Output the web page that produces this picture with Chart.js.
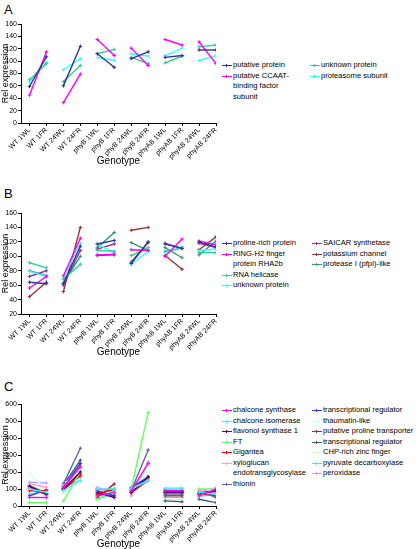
<!DOCTYPE html>
<html>
<head>
<meta charset="utf-8">
<script src="https://cdn.jsdelivr.net/npm/chart.js@4.4.0/dist/chart.umd.min.js"></script>
<style>
  body { margin: 0; background: #fff; font-family: "Liberation Sans", Arial, sans-serif; }
  #page { position: relative; width: 416px; height: 549px; overflow: hidden; }
  .panel-label { position: absolute; left: 4px; font-size: 13px; color: #000; }
  .box { position: absolute; left: 0; width: 222px; }
  .legend { position: absolute; font-size: 7.6px; line-height: 10.5px; color: #000; white-space: nowrap; }
  .legend div { position: relative; padding-left: 11px; }
  .legend .sw { position: absolute; left: 0; top: 5px; width: 10px; height: 1px; }
  .legend .sw::after { content: ''; position: absolute; left: 4px; top: -1px; width: 1px; height: 3px; background: inherit; }
</style>
</head>
<body>
<div id="page">
  <div class="panel-label" style="top:2px">A</div>
  <div class="box" style="top:0px;height:169px"><canvas id="chartA"></canvas></div>
  <div class="legend" id="legA1" style="left:222px;top:60px"></div>
  <div class="legend" id="legA2" style="left:310px;top:60px"></div>

  <div class="panel-label" style="top:186px">B</div>
  <div class="box" style="top:185px;height:175px"><canvas id="chartB"></canvas></div>
  <div class="legend" id="legB1" style="left:222px;top:238px"></div>
  <div class="legend" id="legB2" style="left:312px;top:238px"></div>

  <div class="panel-label" style="top:379px">C</div>
  <div class="box" style="top:376px;height:176px"><canvas id="chartC"></canvas></div>
  <div class="legend" id="legC1" style="left:222px;top:405px"></div>
  <div class="legend" id="legC2" style="left:312px;top:405px"></div>
</div>
<script>
const genotypes = ['WT 1WL', 'WT 1FR', 'WT 24WL', 'WT 24FR', 'phyB 1WL', 'phyB 1FR', 'phyB 24WL', 'phyB 24FR', 'phyAB 1WL', 'phyAB 1FR', 'phyAB 24WL', 'phyAB 24FR'];

// panel A
const aPutative = [59, 107, 60, 124, 112, 90, 104, 115, 106, 109, 118, 118];
const aCcaat = [45, 115, 33, 79, 135, 109, 121, 93, 135, 126, 131, 96];
const aUnknown = [70, 96, 67, 93, 112, 119, 106, 96, 97, 108, 123, 126];
const aProteasome = [66, 98, 86, 104, 106, 101, 112, 108, 109, 121, 101, 109];
const aTicks = [0, 160, 20];

// panel B
const bProline = [64, 62, 62, 114, 117, 122, 90, 120, 117, 111, 120, 113];
const bRing = [56, 72, 73, 125, 102, 103, 109, 108, 100, 124, 121, 116];
const bHelicase = [91, 84, 68, 89, 108, 107, 101, 112, 107, 111, 105, 105];
const bUnknown = [79, 72, 70, 118, 117, 105, 89, 107, 105, 113, 108, 110];
const bSaicar = [72, 80, 60, 108, 110, 117, 92, 119, 118, 111, 118, 112];
const bPotassium = [44, 64, 51, 140, 101, 102, 136, 140, 101, 82, 109, 127];
const bProtease = [80, 73, 63, 100, 112, 133, 119, 108, 112, 98, 102, 121];
const bTicks = [20, 160, 20];

// panel C
const cChalSyn = [50, 50, 110, 230, 60, 80, 90, 250, 90, 90, 60, 100];
const cChalIso = [100, 80, 90, 150, 100, 100, 100, 150, 105, 105, 80, 70];
const cFlavonol = [115, 70, 100, 200, 80, 50, 80, 170, 80, 80, 75, 90];
const cFT = [20, 20, 30, 200, 40, 90, 100, 550, 95, 95, 100, 100];
const cGigantea = [90, 90, 95, 180, 70, 100, 80, 150, 95, 85, 70, 90];
const cXyloglucan = [130, 110, 120, 170, 110, 80, 70, 160, 100, 100, 90, 80];
const cThionin = [110, 65, 130, 340, 100, 90, 90, 330, 70, 70, 90, 50];
const cTransReg1 = [60, 95, 105, 250, 90, 60, 110, 170, 85, 85, 80, 80];
const cThaumatin = [190, 95, 140, 160, 110, 40, 95, 200, 105, 100, 65, 110];
const cProline = [100, 70, 100, 190, 50, 130, 100, 170, 60, 60, 75, 60];
const cTransReg2 = [120, 75, 120, 270, 70, 60, 80, 160, 30, 25, 40, 20];
const cChp = [80, 100, 80, 220, 60, 100, 90, 180, 40, 40, 100, 95];
const cPyruvate = [70, 90, 115, 150, 40, 70, 100, 150, 50, 50, 55, 70];
const cPeroxidase = [140, 135, 140, 240, 100, 100, 60, 260, 75, 75, 80, 110];
const cTicks = [0, 600, 100];

const FONT = '"Liberation Sans", Arial, sans-serif';

function series(label, data, color) {
    return {
        label,
        data: data.map((v, i) => ({ x: i, y: v })),
        borderColor: color,
        backgroundColor: color,
        borderWidth: 1.4,
        pointStyle: 'cross',
        pointRadius: 1.8,
        pointBorderWidth: 1,
        tension: 0,
        // only 1WL-1FR and 24WL-24FR pairs are joined
        segment: { borderColor: c => c.p0DataIndex % 2 ? 'rgba(0,0,0,0)' : undefined }
    };
}

function makeChart(id, datasets, ticks, padTop) {
    return new Chart(document.getElementById(id), {
        type: 'line',
        data: { datasets },
        options: {
            responsive: true,
            maintainAspectRatio: false,
            animation: false,
            layout: { padding: { top: padTop, right: 6, bottom: 0, left: 0 } },
            plugins: { legend: { display: false }, tooltip: { enabled: false } },
            scales: {
                x: {
                    type: 'linear',
                    min: -0.5, max: 11,
                    grid: { display: true, drawOnChartArea: false, color: '#000', tickLength: 3 },
                    border: { color: '#000', width: 1 },
                    afterBuildTicks: s => { s.ticks = genotypes.map((_, i) => ({ value: i })); },
                    ticks: {
                        color: '#000', font: { family: FONT, size: 7 }, minRotation: 45, maxRotation: 45,
                        padding: 0, autoSkip: false, callback: v => genotypes[v]
                    },
                    title: { display: true, text: 'Genotype', color: '#000', font: { family: FONT, size: 10 }, padding: { top: 0, bottom: 2 } },
                    afterFit: s => { s.height = 46; }
                },
                y: {
                    min: ticks[0], max: ticks[1],
                    grid: { display: true, drawOnChartArea: false, color: '#000', tickLength: 3 },
                    border: { color: '#000', width: 1 },
                    ticks: { stepSize: ticks[2], color: '#000', font: { family: FONT, size: 7 }, padding: 1 },
                    title: { display: true, text: 'Rel expression', color: '#000', font: { family: FONT, size: 9 }, padding: { top: 0, bottom: 0 } },
                    afterFit: s => { s.width = 21; }
                }
            }
        }
    });
}

makeChart('chartA', [
    series('putative protein', aPutative, '#333399'),
    series('putative CCAAT-binding factor subunit', aCcaat, '#ff00ff'),
    series('unknown protein', aUnknown, '#33cc99'),
    series('proteasome subunit', aProteasome, '#33ffff')
], aTicks, 24);

makeChart('chartB', [
    series('proline-rich protein', bProline, '#333399'),
    series('RING-H2 finger protein RHA2b', bRing, '#ff00ff'),
    series('RNA helicase', bHelicase, '#33cc99'),
    series('unknown protein', bUnknown, '#33ffff'),
    series('SAICAR synthetase', bSaicar, '#993399'),
    series('potassium channel', bPotassium, '#993333'),
    series('protease I (pfpI)-like', bProtease, '#339977')
], bTicks, 28);

makeChart('chartC', [
    series('chalcone synthase', cChalSyn, '#ff00ff'),
    series('chalcone isomerase', cChalIso, '#33ffff'),
    series('flavonol synthase 1', cFlavonol, '#660066'),
    series('FT', cFT, '#66ff66'),
    series('Gigantea', cGigantea, '#ff0000'),
    series('xyloglucan endotransglycosylase', cXyloglucan, '#ff99cc'),
    series('thionin', cThionin, '#666699'),
    series('transcriptional regulator', cTransReg1, '#3333ff'),
    series('thaumatin-like', cThaumatin, '#ccffff'),
    series('putative proline transporter', cProline, '#993333'),
    series('transcriptional regulator', cTransReg2, '#336666'),
    series('CHP-rich zinc finger', cChp, '#ccffcc'),
    series('pyruvate decarboxylase', cPyruvate, '#66ccff'),
    series('peroxidase', cPeroxidase, '#cc99ff')
], cTicks, 28);

function legend(id, items) {
    const el = document.getElementById(id);
    let html = '';
    items.forEach(([text, color]) => {
        html += `<div><span class="sw" style="background:${color}"></span>${text}</div>`;
    });
    el.innerHTML = html;
}

legend('legA1', [['putative protein', '#333399'], ['putative CCAAT-<br>binding factor<br>subunit', '#ff00ff']]);
legend('legA2', [['unknown protein', '#33cc99'], ['proteasome subunit', '#33ffff']]);
legend('legB1', [['proline-rich protein', '#333399'], ['RING-H2 finger<br>protein RHA2b', '#ff00ff'], ['RNA helicase', '#33cc99'], ['unknown protein', '#33ffff']]);
legend('legB2', [['SAICAR synthetase', '#993399'], ['potassium channel', '#993333'], ['protease I (pfpI)-like', '#339977']]);
legend('legC1', [['chalcone synthase', '#ff00ff'], ['chalcone isomerase', '#33ffff'], ['flavonol synthase 1', '#660066'], ['FT', '#66ff66'], ['Gigantea', '#ff0000'], ['xyloglucan<br>endotransglycosylase', '#ff99cc'], ['thionin', '#666699']]);
legend('legC2', [['transcriptional regulator', '#3333ff'], ['thaumatin-like', '#ccffff'], ['putative proline transporter', '#993333'], ['transcriptional regulator', '#336666'], ['CHP-rich zinc finger', '#ccffcc'], ['pyruvate decarboxylase', '#66ccff'], ['peroxidase', '#cc99ff']]);
</script>
</body>
</html>
